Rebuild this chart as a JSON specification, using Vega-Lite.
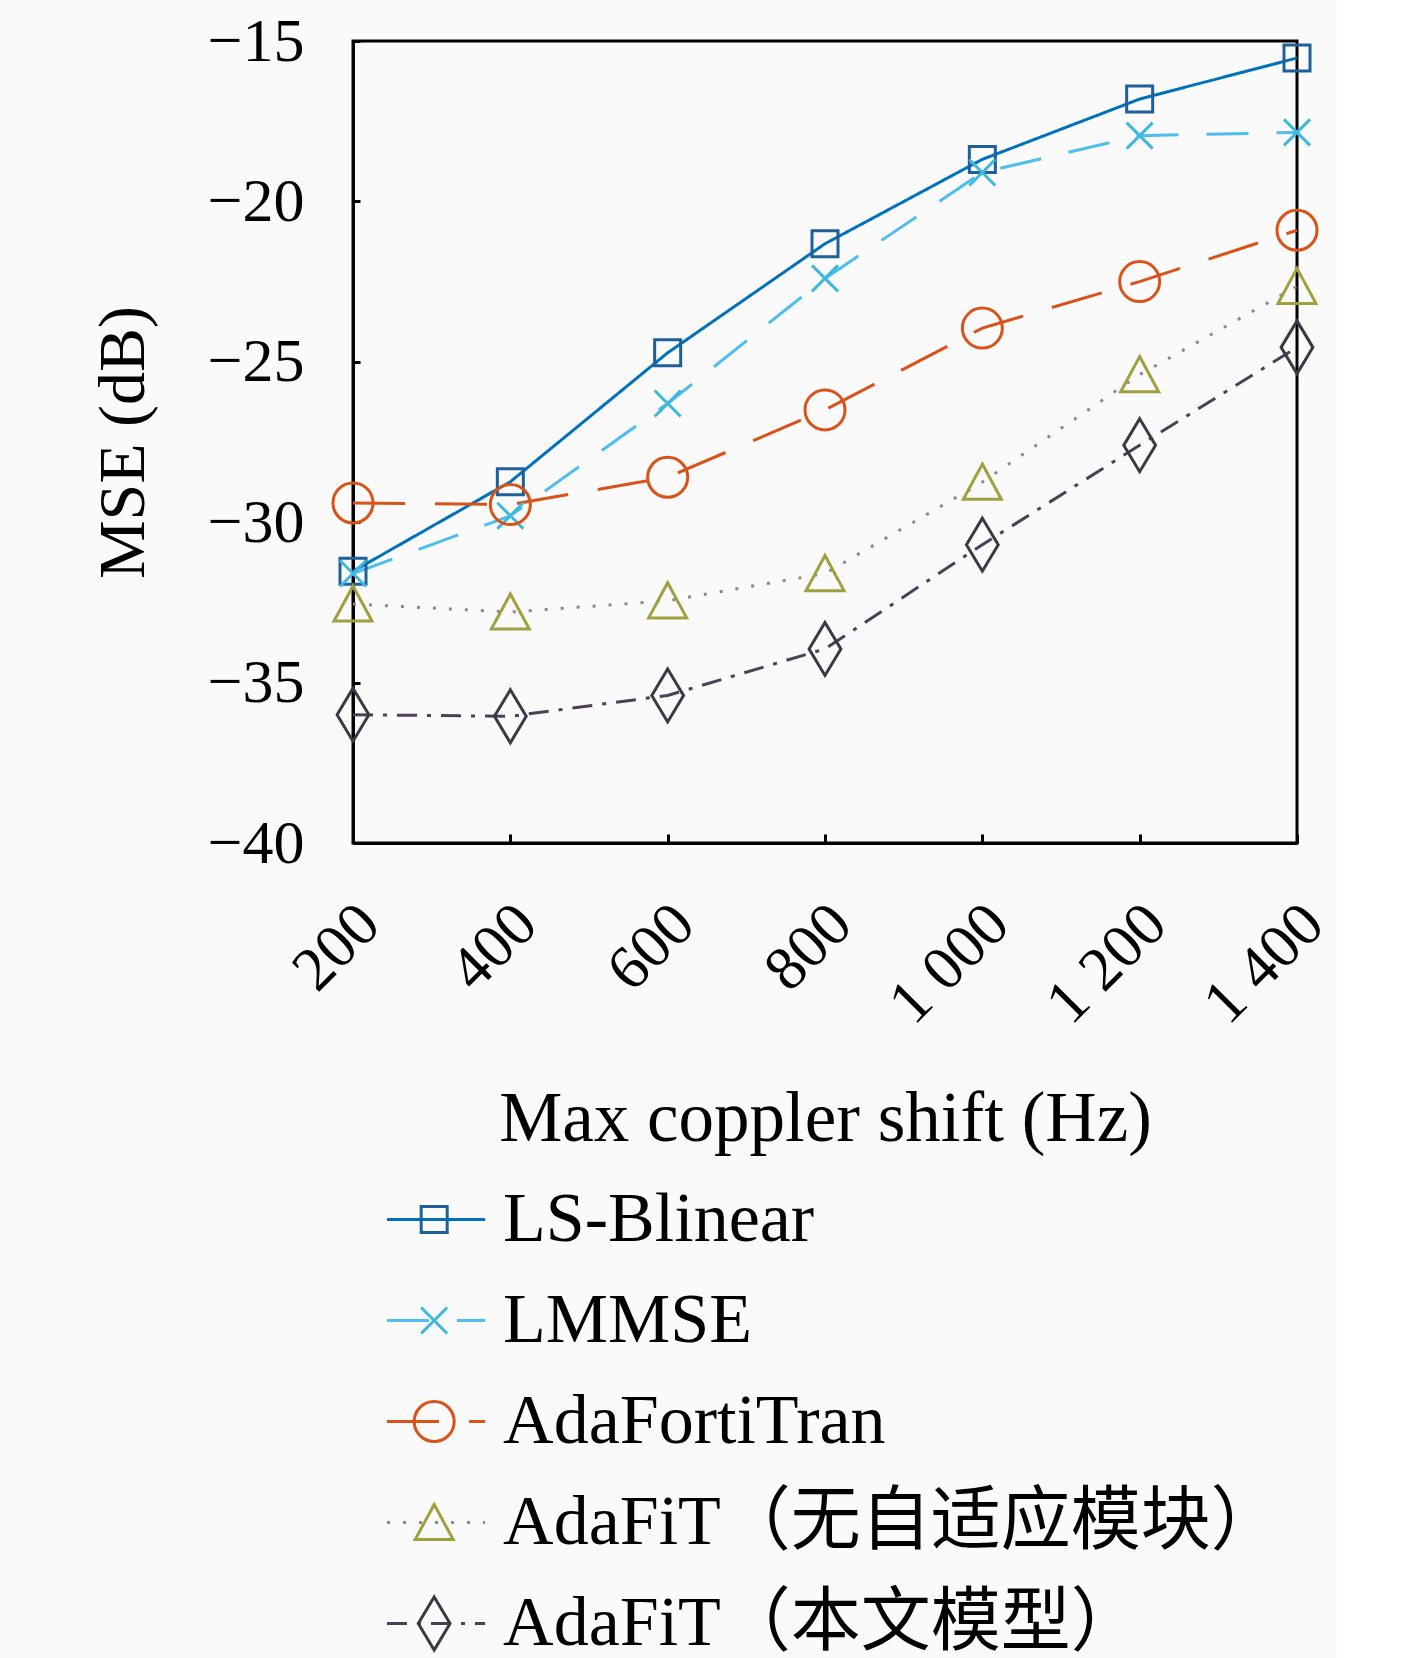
{
  "$schema": "https://vega.github.io/schema/vega-lite/v6.json",
  "background": "#fafafa",
  "padding": {"top": 8, "left": 88, "right": 0, "bottom": 0},
  "config": {
    "font": "Liberation Serif, Noto Sans CJK SC",
    "view": {"stroke": "black", "strokeWidth": 3},
    "axis": {
      "domainColor": "black", "domainWidth": 3,
      "tickColor": "black", "tickWidth": 3,
      "grid": false,
      "labelColor": "black", "titleColor": "black",
      "labelFont": "Liberation Serif", "titleFont": "Liberation Serif",
      "titleFontWeight": "normal"
    }
  },
  "datasets": {
    "mse": [
      {"series": "LS-Blinear", "shift": 200, "mse": -31.53},
      {"series": "LS-Blinear", "shift": 400, "mse": -28.74},
      {"series": "LS-Blinear", "shift": 600, "mse": -24.72},
      {"series": "LS-Blinear", "shift": 800, "mse": -21.32},
      {"series": "LS-Blinear", "shift": 1000, "mse": -18.69},
      {"series": "LS-Blinear", "shift": 1200, "mse": -16.81},
      {"series": "LS-Blinear", "shift": 1400, "mse": -15.53},
      {"series": "LMMSE", "shift": 200, "mse": -31.6},
      {"series": "LMMSE", "shift": 400, "mse": -29.8},
      {"series": "LMMSE", "shift": 600, "mse": -26.3},
      {"series": "LMMSE", "shift": 800, "mse": -22.4},
      {"series": "LMMSE", "shift": 1000, "mse": -19.1},
      {"series": "LMMSE", "shift": 1200, "mse": -17.95},
      {"series": "LMMSE", "shift": 1400, "mse": -17.85},
      {"series": "AdaFortiTran", "shift": 200, "mse": -29.4},
      {"series": "AdaFortiTran", "shift": 400, "mse": -29.45},
      {"series": "AdaFortiTran", "shift": 600, "mse": -28.6},
      {"series": "AdaFortiTran", "shift": 800, "mse": -26.5},
      {"series": "AdaFortiTran", "shift": 1000, "mse": -23.95},
      {"series": "AdaFortiTran", "shift": 1200, "mse": -22.5},
      {"series": "AdaFortiTran", "shift": 1400, "mse": -20.9},
      {"series": "AdaFiT（无自适应模块）", "shift": 200, "mse": -32.55},
      {"series": "AdaFiT（无自适应模块）", "shift": 400, "mse": -32.8},
      {"series": "AdaFiT（无自适应模块）", "shift": 600, "mse": -32.45},
      {"series": "AdaFiT（无自适应模块）", "shift": 800, "mse": -31.6},
      {"series": "AdaFiT（无自适应模块）", "shift": 1000, "mse": -28.75},
      {"series": "AdaFiT（无自适应模块）", "shift": 1200, "mse": -25.4},
      {"series": "AdaFiT（无自适应模块）", "shift": 1400, "mse": -22.65},
      {"series": "AdaFiT（本文模型）", "shift": 200, "mse": -36.0},
      {"series": "AdaFiT（本文模型）", "shift": 400, "mse": -36.05},
      {"series": "AdaFiT（本文模型）", "shift": 600, "mse": -35.4},
      {"series": "AdaFiT（本文模型）", "shift": 800, "mse": -33.95},
      {"series": "AdaFiT（本文模型）", "shift": 1000, "mse": -30.7},
      {"series": "AdaFiT（本文模型）", "shift": 1200, "mse": -27.6},
      {"series": "AdaFiT（本文模型）", "shift": 1400, "mse": -24.55}
    ],
    "names": [
      {"series": "LS-Blinear"},
      {"series": "LMMSE"},
      {"series": "AdaFortiTran"},
      {"series": "AdaFiT（无自适应模块）"},
      {"series": "AdaFiT（本文模型）"}
    ]
  },
  "spacing": 12,
  "vconcat": [
    {
      "width": 944,
      "height": 802,
      "data": {"name": "mse"},
      "encoding": {
        "x": {
          "field": "shift", "type": "quantitative",
          "title": "Max coppler shift (Hz)",
          "scale": {"domain": [200, 1400], "nice": false},
          "axis": {
            "values": [200, 400, 600, 800, 1000, 1200, 1400],
            "labelExpr": "replace(format(datum.value, ','), ',', ' ')",
            "labelAngle": -45, "labelAlign": "right", "labelBaseline": "middle",
            "labelFontSize": 62, "labelPadding": 80, "labelOffset": 16,
            "tickSize": -9,
            "titleFontSize": 71, "titlePadding": 50
          }
        },
        "y": {
          "field": "mse", "type": "quantitative",
          "title": "MSE (dB)",
          "scale": {"domain": [-40, -15], "nice": false},
          "axis": {
            "values": [-40, -35, -30, -25, -20, -15],
            "labelFontSize": 62, "labelPadding": 56,
            "tickSize": -7,
            "titleFontSize": 66, "titlePadding": 50
          }
        }
      },
      "layer": [
        {
          "mark": {"type": "line", "strokeWidth": 3},
          "encoding": {
            "color": {
              "field": "series", "type": "nominal", "legend": null,
              "scale": {
                "domain": ["LS-Blinear", "LMMSE", "AdaFortiTran", "AdaFiT（无自适应模块）", "AdaFiT（本文模型）"],
                "range": ["#0072BD", "#4DBEEE", "#D95319", "#8a8a8a", "#4a4058"]
              }
            },
            "strokeDash": {
              "field": "series", "type": "nominal", "legend": null,
              "scale": {
                "domain": ["LS-Blinear", "LMMSE", "AdaFortiTran", "AdaFiT（无自适应模块）", "AdaFiT（本文模型）"],
                "range": [[1, 0], [42, 28], [52, 30], [3, 13], [20, 10, 4, 10]]
              }
            }
          }
        },
        {
          "mark": {"type": "point", "filled": false, "strokeWidth": 3, "opacity": 1},
          "encoding": {
            "shape": {
              "field": "series", "type": "nominal", "legend": null,
              "scale": {
                "domain": ["LS-Blinear", "LMMSE", "AdaFortiTran", "AdaFiT（无自适应模块）", "AdaFiT（本文模型）"],
                "range": ["square", "M-1,-1L1,1M-1,1L1,-1", "circle", "M0,-0.95L1,0.9L-1,0.9Z", "M0,-1L0.6,0L0,1L-0.6,0Z"]
              }
            },
            "stroke": {
              "field": "series", "type": "nominal", "legend": null,
              "scale": {
                "domain": ["LS-Blinear", "LMMSE", "AdaFortiTran", "AdaFiT（无自适应模块）", "AdaFiT（本文模型）"],
                "range": ["#1f5f9a", "#3fb8e0", "#D95319", "#a0a040", "#3a3a44"]
              }
            },
            "size": {
              "field": "series", "type": "nominal", "legend": null,
              "scale": {
                "type": "ordinal",
                "domain": ["LS-Blinear", "LMMSE", "AdaFortiTran", "AdaFiT（无自适应模块）", "AdaFiT（本文模型）"],
                "range": [676, 676, 1600, 1444, 2809]
              }
            }
          }
        }
      ]
    },
    {
      "width": 944,
      "height": 505,
      "view": {"stroke": null},
      "data": {"name": "names"},
      "encoding": {
        "y": {
          "field": "series", "type": "nominal", "axis": null,
          "sort": ["LS-Blinear", "LMMSE", "AdaFortiTran", "AdaFiT（无自适应模块）", "AdaFiT（本文模型）"]
        }
      },
      "layer": [
        {
          "mark": {"type": "rule", "strokeWidth": 3},
          "encoding": {
            "x": {"datum": 3.6, "type": "quantitative", "scale": {"domain": [0, 100]}, "axis": null},
            "x2": {"datum": 14},
            "color": {"field": "series", "type": "nominal", "legend": null},
            "strokeDash": {
              "field": "series", "type": "nominal", "legend": null,
              "scale": {
                "domain": ["LS-Blinear", "LMMSE", "AdaFortiTran", "AdaFiT（无自适应模块）", "AdaFiT（本文模型）"],
                "range": [[1, 0], [42, 28], [52, 30], [3, 13], [20, 10, 4, 10]]
              }
            }
          }
        },
        {
          "mark": {"type": "point", "filled": false, "strokeWidth": 3, "opacity": 1},
          "encoding": {
            "x": {"datum": 8.6, "type": "quantitative"},
            "shape": {"field": "series", "type": "nominal", "legend": null},
            "stroke": {"field": "series", "type": "nominal", "legend": null},
            "size": {
              "field": "series", "type": "nominal", "legend": null,
              "scale": {
                "type": "ordinal",
                "domain": ["LS-Blinear", "LMMSE", "AdaFortiTran", "AdaFiT（无自适应模块）", "AdaFiT（本文模型）"],
                "range": [676, 676, 1600, 1444, 2809]
              }
            }
          }
        },
        {
          "mark": {"type": "text", "align": "left", "baseline": "middle", "fontSize": 70, "font": "Liberation Serif, Noto Sans CJK SC", "color": "black"},
          "encoding": {
            "x": {"datum": 15.9, "type": "quantitative"},
            "text": {"field": "series", "type": "nominal"}
          }
        }
      ]
    }
  ]
}
